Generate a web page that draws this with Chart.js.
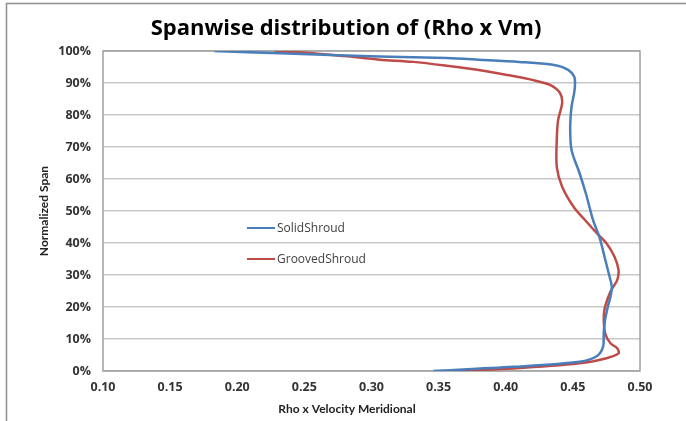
<!DOCTYPE html>
<html>
<head>
<meta charset="utf-8">
<script src="https://cdn.jsdelivr.net/npm/chart.js@4.4.1/dist/chart.umd.min.js"></script>
<style>
  html, body { margin: 0; padding: 0; background: #fff; }
  #wrap { width: 686px; height: 421px; position: relative; }
</style>
</head>
<body>
<div id="wrap"><canvas id="chart"></canvas></div>
<script>
// span positions (%) and Rho x Vm
var solidSpan = [0, 1.3, 2.9, 4.7, 7.6, 12, 16, 20, 23.2, 26.3, 30, 35, 41.5, 47.2, 55, 61.8, 69.1, 76.3, 82.6, 87, 89.9, 92, 94.1, 95.5, 96.6, 97.3, 97.8, 98.3, 99.3, 100];
var solidRho = [0.346, 0.4055, 0.455, 0.468, 0.4725, 0.473, 0.474, 0.476, 0.478, 0.479, 0.477, 0.474, 0.470, 0.465, 0.460, 0.455, 0.449, 0.448, 0.449, 0.451, 0.4516, 0.451, 0.4465, 0.438, 0.41, 0.38, 0.356, 0.306, 0.232, 0.183];

var groovedSpan = [0, 0.8, 2.4, 4.0, 5.5, 7.1, 8.7, 11.8, 17.0, 20.1, 24.8, 28.4, 31.6, 35.7, 39.9, 43.0, 47.2, 51, 57.6, 63.8, 72.2, 78.4, 83.7, 86.8, 89.4, 90.9, 92.6, 94.0, 95.4, 96.6, 97.3, 98.4, 99.3, 100];
var groovedRho = [0.3585, 0.4055, 0.455, 0.475, 0.484, 0.483, 0.478, 0.474, 0.473, 0.474, 0.478, 0.483, 0.484, 0.481, 0.475, 0.468, 0.459, 0.451, 0.442, 0.438, 0.438, 0.439, 0.442, 0.4405, 0.433, 0.4205, 0.40, 0.381, 0.356, 0.331, 0.306, 0.28, 0.256, 0.228];

var seriesNames = ["SolidShroud", "GroovedShroud"];
var seriesColors = ["#4a7ebb", "#be4b48"];

var xTicks = [0.10, 0.15, 0.20, 0.25, 0.30, 0.35, 0.40, 0.45, 0.50];
var yTicks = [0, 10, 20, 30, 40, 50, 60, 70, 80, 90, 100];

var chartTitle = "Spanwise distribution of (Rho x Vm)";
var xTitle = "Rho x Velocity Meridional";
var yTitle = "Normalized Span";

var FONT = "'Open Sans', Lato, sans-serif";
var TITLE_FONT = "Lato, 'Open Sans', sans-serif";

function toPoints(xs, ys) {
    var pts = [];
    for (var i = 0; i < xs.length; i++) pts.push({x: xs[i], y: ys[i]});
    return pts;
}

// outer frame + plot box
var framePlugin = {
    id: "frame",
    beforeDatasetsDraw: function(chart) {
        var c = chart.ctx, a = chart.chartArea;
        c.save();
        c.strokeStyle = "#909090";
        c.lineWidth = 1.5;
        c.beginPath();
        c.moveTo(6.5, 421);
        c.lineTo(6.5, 3.5);
        c.lineTo(686, 3.5);
        c.stroke();
        c.strokeStyle = "#a0a0a0";
        c.lineWidth = 1.5;
        c.strokeRect(a.left, a.top, a.right - a.left, a.bottom - a.top);
        c.restore();
    }
};

// legend inside the plot, titles centred on the whole picture (as Excel does)
var legendPlugin = {
    id: "innerLegend",
    afterDatasetsDraw: function(chart) {
        var c = chart.ctx, a = chart.chartArea;
        var x0 = a.left + 144, y0 = a.top + 177;
        c.save();
        c.font = "12px " + FONT;
        c.textBaseline = "middle";
        chart.data.datasets.forEach(function(ds, i) {
            var y = y0 + i * 31;
            c.strokeStyle = ds.borderColor;
            c.lineWidth = 2;
            c.beginPath();
            c.moveTo(x0, y);
            c.lineTo(x0 + 28, y);
            c.stroke();
            c.fillStyle = "#404040";
            c.fillText(ds.label, x0 + 30, y + 0.5);
        });
        c.textAlign = "center";
        c.font = "bold 12px " + TITLE_FONT;
        c.fillStyle = "#222";
        c.fillText(xTitle, chart.width / 2 + 4, 409);
        c.font = "bold 22px " + FONT;
        c.fillStyle = "#000";
        c.fillText(chartTitle, chart.width / 2 + 3, 29);
        c.restore();
    }
};

var ctx = document.getElementById("chart").getContext("2d");
var chart = new Chart(ctx, {
    type: "scatter",
    data: {
        datasets: [
            {
                label: seriesNames[0],
                data: toPoints(solidRho, solidSpan),
                borderColor: seriesColors[0],
                backgroundColor: seriesColors[0],
                showLine: true,
                borderWidth: 2.5,
                pointRadius: 0,
                tension: 0.3
            },
            {
                label: seriesNames[1],
                data: toPoints(groovedRho, groovedSpan),
                borderColor: seriesColors[1],
                backgroundColor: seriesColors[1],
                showLine: true,
                borderWidth: 2.5,
                pointRadius: 0,
                tension: 0.3
            }
        ]
    },
    options: {
        responsive: true,
        maintainAspectRatio: false,
        animation: false,
        layout: {padding: {left: 0, right: 46, top: 51, bottom: 0}},
        plugins: {
            legend: {display: false},
            tooltip: {enabled: false},
            title: {display: false}
        },
        scales: {
            x: {
                type: "linear",
                min: xTicks[0],
                max: xTicks[xTicks.length - 1],
                afterBuildTicks: function(scale) {
                    scale.ticks = xTicks.map(function(v) { return {value: v}; });
                },
                afterFit: function(scale) { scale.height = 50; },
                grid: {display: false, drawTicks: false},
                border: {display: false},
                ticks: {
                    padding: 9,
                    color: "#333",
                    font: {family: FONT, size: 12.5, weight: "bold"},
                    callback: function(v) { return Number(v).toFixed(2); }
                },
                title: {display: false}
            },
            y: {
                type: "linear",
                min: 0,
                max: 100,
                afterBuildTicks: function(scale) {
                    scale.ticks = yTicks.map(function(v) { return {value: v}; });
                },
                afterFit: function(scale) { scale.width = 103; },
                grid: {color: "#c8c8c8", lineWidth: 1.5, drawTicks: false},
                border: {display: false},
                ticks: {
                    padding: 12,
                    color: "#333",
                    font: {family: FONT, size: 12.5, weight: "bold"},
                    callback: function(v) { return v + "%"; }
                },
                title: {
                    display: true,
                    text: yTitle,
                    color: "#222",
                    font: {family: TITLE_FONT, size: 12, weight: "bold"},
                    padding: {top: 37, bottom: 0}
                }
            }
        }
    },
    plugins: [framePlugin, legendPlugin]
});
</script>
</body>
</html>
